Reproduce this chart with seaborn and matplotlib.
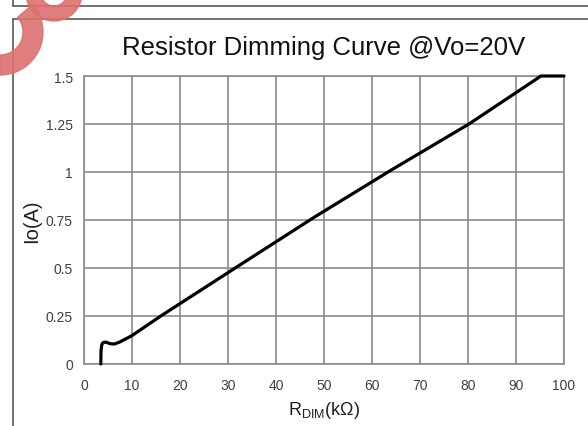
import matplotlib
matplotlib.use("Agg")
import matplotlib.pyplot as plt
import seaborn as sns
import pandas as pd
from matplotlib.patches import Wedge
from matplotlib.lines import Line2D

# ---- data ----
r_dim = [3.5, 3.55, 3.7, 4.0, 4.6, 5.4, 6.3, 7.5, 10.0, 16.0, 31.5, 48.0, 64.0, 80.2, 95.2, 100.0]
io_a = [0.0, 0.07, 0.10, 0.112, 0.114, 0.106, 0.104, 0.115, 0.148, 0.25, 0.50, 0.765, 1.01, 1.25, 1.50, 1.50]
x_ticks = [0, 10, 20, 30, 40, 50, 60, 70, 80, 90, 100]
y_ticks = [0, 0.25, 0.5, 0.75, 1, 1.25, 1.5]
y_tick_labels = ["0", "0.25", "0.5", "0.75", "1", "1.25", "1.5"]
title = "Resistor Dimming Curve @Vo=20V"

df = pd.DataFrame({"R": r_dim, "Io": io_a})

sns.set_style("white")
plt.rcParams["font.family"] = ["Liberation Sans", "DejaVu Sans"]
plt.rcParams["mathtext.fontset"] = "custom"
plt.rcParams["mathtext.rm"] = "Liberation Sans"
plt.rcParams["mathtext.it"] = "Liberation Sans:italic"

W, H = 588, 427
fig = plt.figure(figsize=(W / 100, H / 100), dpi=100)
ax = fig.add_axes([84 / W, 1 - 365 / H, (564 - 84) / W, (365 - 77) / H])

grid_c = "#8c8c8c"
sns.lineplot(data=df, x="R", y="Io", ax=ax, color="black", linewidth=2.3,
             estimator=None, sort=False, clip_on=False, zorder=5)

ax.set_xlim(0, 100)
ax.set_ylim(0, 1.5)
ax.set_xticks(x_ticks)
ax.set_yticks(y_ticks)
ax.set_yticklabels(y_tick_labels)
ax.grid(True, color=grid_c, linewidth=1.2)
ax.set_axisbelow(True)
for s in ax.spines.values():
    s.set_color(grid_c)
    s.set_linewidth(1.2)
ax.tick_params(axis="y", length=3, width=1.2, color=grid_c, labelsize=10, labelcolor="#404040", pad=5)
ax.tick_params(axis="x", length=0, labelsize=10, labelcolor="#404040", pad=10)
ax.set_xlabel(r"R$_{\mathrm{DIM}}$(kΩ)", fontsize=13, labelpad=5, color="#202020")
ax.set_ylabel("Io(A)", fontsize=14.5, labelpad=3, color="#202020")

fig.text(324 / W, 1 - 48 / H, title, ha="center", va="center", fontsize=18.5, color="#111111")

# page frame lines
lc = "#666666"
fig.add_artist(Line2D([13 / W, 1.0], [1 - 7 / H, 1 - 7 / H], color=lc, lw=1.3))
fig.add_artist(Line2D([13 / W, 13 / W], [1.0, 1 - 7 / H], color=lc, lw=1.3))
fig.add_artist(Line2D([13 / W, 1.0], [1 - 19.5 / H, 1 - 19.5 / H], color=lc, lw=1.3))
fig.add_artist(Line2D([13 / W, 13 / W], [0.0, 1 - 19.5 / H], color=lc, lw=1.3))

# red logo fragment (top-left corner)
logo = "#dd7070"
wa = fig.add_axes([0, 0, 1, 1], zorder=5)
wa.set_xlim(0, W)
wa.set_ylim(H, 0)
wa.axis("off")
wa.add_patch(Wedge((54, -6), 28, 0, 360, width=15, color=logo, alpha=0.9))
wa.add_patch(Wedge((0, 33), 43, -40, 90, width=20, color=logo, alpha=0.9))

fig.savefig("out.png", dpi=100)
